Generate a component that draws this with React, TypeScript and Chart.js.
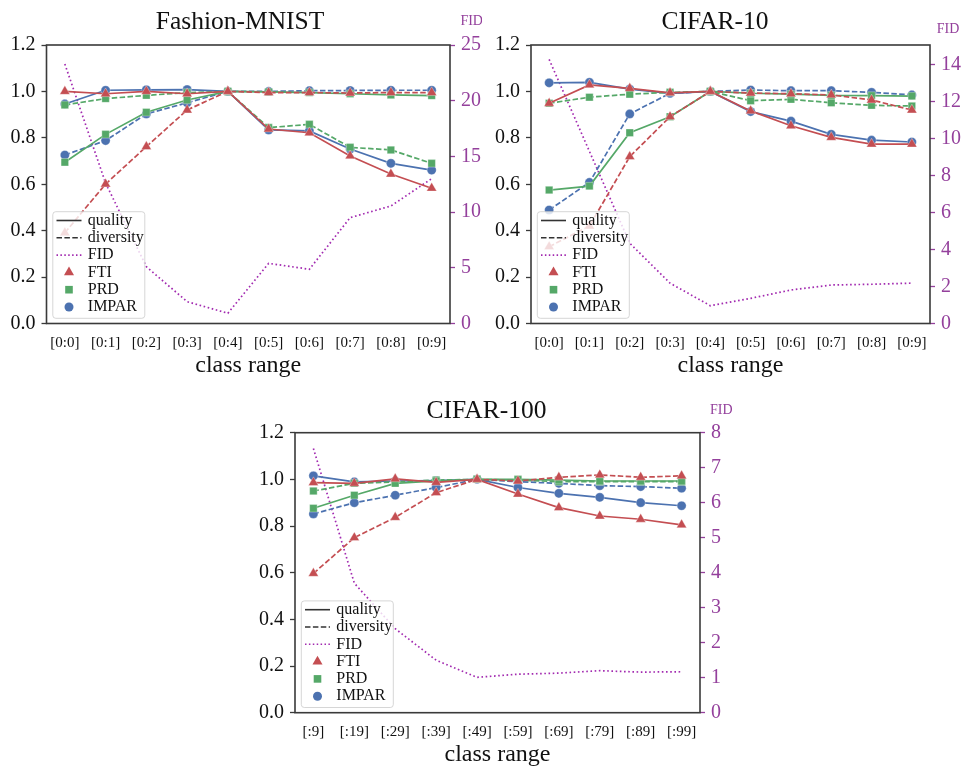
import React, { useEffect, useRef } from 'react';
import { Chart, registerables } from 'chart.js';

Chart.register(...registerables);

const FONT = '"Liberation Serif", "DejaVu Serif", serif';
const RED = '#C44E52';
const GREEN = '#55A868';
const BLUE = '#4C72B0';
const PURPLE_LINE = '#a22ab0';
const PURPLE_TEXT = '#94409c';
const SPINE = '#3a3a3a';
const TEXT = '#111111';

// ---------- data ----------
const labelsTen = ['[0:0]', '[0:1]', '[0:2]', '[0:3]', '[0:4]', '[0:5]', '[0:6]', '[0:7]', '[0:8]', '[0:9]'];
const labelsHundred = ['[:9]', '[:19]', '[:29]', '[:39]', '[:49]', '[:59]', '[:69]', '[:79]', '[:89]', '[:99]'];

// Fashion-MNIST
const fmFtiQuality = [1.0, 0.99, 1.0, 0.99, 1.0, 0.838, 0.822, 0.722, 0.644, 0.583];
const fmFtiDiversity = [0.391, 0.601, 0.762, 0.92, 1.0, 0.995, 0.995, 0.993, 0.995, 0.995];
const fmPrdQuality = [0.695, 0.815, 0.91, 0.963, 1.0, 0.998, 0.995, 0.99, 0.985, 0.982];
const fmPrdDiversity = [0.942, 0.969, 0.983, 0.995, 1.0, 0.844, 0.858, 0.759, 0.748, 0.69];
const fmImparQuality = [0.946, 1.005, 1.007, 1.008, 1.0, 0.834, 0.83, 0.752, 0.69, 0.661];
const fmImparDiversity = [0.726, 0.788, 0.903, 0.951, 1.0, 1.0, 1.003, 1.004, 1.005, 1.005];
const fmFid = [23.3, 12.6, 5.1, 1.96, 0.92, 5.4, 4.87, 9.5, 10.55, 13.0];

// CIFAR-10
const c10FtiQuality = [0.949, 1.028, 1.013, 0.994, 1.0, 0.916, 0.852, 0.802, 0.773, 0.773];
const c10FtiDiversity = [0.331, 0.42, 0.719, 0.891, 1.0, 0.993, 0.99, 0.985, 0.963, 0.92];
const c10PrdQuality = [0.575, 0.592, 0.822, 0.891, 1.0, 0.992, 0.988, 0.983, 0.982, 0.98];
const c10PrdDiversity = [0.949, 0.975, 0.988, 0.996, 1.0, 0.96, 0.966, 0.951, 0.94, 0.937];
const c10ImparQuality = [1.037, 1.039, 1.01, 0.992, 1.0, 0.913, 0.872, 0.815, 0.79, 0.782];
const c10ImparDiversity = [0.489, 0.608, 0.903, 0.992, 1.0, 1.006, 1.003, 1.003, 0.996, 0.985];
const c10Fid = [14.27, 9.3, 4.34, 2.18, 0.96, 1.36, 1.81, 2.08, 2.12, 2.18];

// CIFAR-100
const c100FtiQuality = [0.986, 0.983, 1.002, 0.987, 1.0, 0.937, 0.879, 0.843, 0.829, 0.805];
const c100FtiDiversity = [0.597, 0.75, 0.837, 0.943, 1.0, 0.993, 1.009, 1.019, 1.009, 1.015];
const c100PrdQuality = [0.876, 0.932, 0.983, 0.993, 1.0, 1.0, 0.997, 0.993, 0.993, 0.993];
const c100PrdDiversity = [0.95, 0.983, 0.989, 0.997, 1.0, 0.997, 0.99, 0.99, 0.99, 0.99];
const c100ImparQuality = [1.015, 0.989, 0.993, 0.995, 1.0, 0.965, 0.94, 0.923, 0.9, 0.887];
const c100ImparDiversity = [0.852, 0.9, 0.932, 0.965, 1.0, 0.99, 0.983, 0.973, 0.969, 0.962];
const c100Fid = [7.55, 3.7, 2.4, 1.5, 1.01, 1.1, 1.13, 1.2, 1.16, 1.17];

const legendLabels = ['quality', 'diversity', 'FID', 'FTI', 'PRD', 'IMPAR'];

// ---------- helpers ----------
function roundRectPath(ctx: CanvasRenderingContext2D, x: number, y: number, w: number, h: number, r: number) {
  ctx.beginPath();
  ctx.moveTo(x + r, y);
  ctx.arcTo(x + w, y, x + w, y + h, r);
  ctx.arcTo(x + w, y + h, x, y + h, r);
  ctx.arcTo(x, y + h, x, y, r);
  ctx.arcTo(x, y, x + w, y, r);
  ctx.closePath();
}

const decorPlugin = {
  id: 'decor',
  afterDatasetsDraw(chart: any) {
    const { ctx, chartArea: a } = chart;
    ctx.save();
    ctx.strokeStyle = SPINE;
    ctx.lineWidth = 1.6;
    ctx.setLineDash([]);
    ctx.strokeRect(a.left, a.top, a.right - a.left, a.bottom - a.top);
    ctx.restore();
  },
  afterDraw(chart: any, _args: any, opts: any) {
    const { ctx, chartArea: a } = chart;
    ctx.save();
    // title
    ctx.fillStyle = TEXT;
    ctx.font = `25.5px ${FONT}`;
    ctx.textAlign = 'center';
    ctx.textBaseline = 'middle';
    ctx.fillText(opts.title, opts.titleX, opts.titleY);
    // FID axis label
    ctx.fillStyle = PURPLE_TEXT;
    ctx.font = `14px ${FONT}`;
    ctx.fillText('FID', opts.fidX, opts.fidY);

    // legend
    const lx = a.left + 6.3;
    const ly = a.bottom - 111.8;
    const lw = 92;
    const lh = 106.6;
    roundRectPath(ctx, lx, ly, lw, lh, 3);
    ctx.fillStyle = 'rgba(255,255,255,0.8)';
    ctx.fill();
    ctx.strokeStyle = 'rgba(204,204,204,0.8)';
    ctx.lineWidth = 1;
    ctx.stroke();

    const hx0 = a.left + 10;
    const hx1 = a.left + 35;
    const hc = (hx0 + hx1) / 2;
    const tx = a.left + 41.3;
    legendLabels.forEach((text, i) => {
      const y = a.bottom - 103 + 17.3 * i;
      ctx.save();
      if (i < 3) {
        ctx.beginPath();
        ctx.strokeStyle = i === 2 ? PURPLE_LINE : '#333';
        ctx.lineWidth = 1.6;
        ctx.setLineDash(i === 0 ? [] : i === 1 ? [5.5, 2.4] : [1.5, 2.4]);
        ctx.moveTo(hx0, y);
        ctx.lineTo(hx1, y);
        ctx.stroke();
      } else if (i === 3) {
        const r = 5.8;
        ctx.beginPath();
        ctx.fillStyle = RED;
        ctx.moveTo(hc, y - r);
        ctx.lineTo(hc + r * 0.866, y + r * 0.5);
        ctx.lineTo(hc - r * 0.866, y + r * 0.5);
        ctx.closePath();
        ctx.fill();
      } else if (i === 4) {
        ctx.fillStyle = GREEN;
        ctx.fillRect(hc - 3.8, y - 3.8, 7.6, 7.6);
      } else {
        ctx.beginPath();
        ctx.fillStyle = BLUE;
        ctx.arc(hc, y, 4.5, 0, Math.PI * 2);
        ctx.fill();
      }
      ctx.restore();
      ctx.fillStyle = TEXT;
      ctx.font = `16px ${FONT}`;
      ctx.textAlign = 'left';
      ctx.textBaseline = 'middle';
      ctx.fillText(text, tx, y);
    });
    ctx.restore();
  },
};

type ChartSpec = {
  w: number;
  h: number;
  area: { left: number; top: number; right: number; bottom: number };
  labels: string[];
  ftiQ: number[];
  ftiD: number[];
  prdQ: number[];
  prdD: number[];
  impQ: number[];
  impD: number[];
  fid: number[];
  fidMax: number;
  fidStep: number;
  title: string;
  titleX: number;
  titleY: number;
  fidX: number;
  fidY: number;
  xTickPad: number;
  xTitlePad: number;
};

const DASH = [5.5, 2.4];

function series(vals: number[], color: string, dashed: boolean, style: string, radius: number) {
  return {
    data: vals.map((y, x) => ({ x, y })),
    borderColor: color,
    backgroundColor: color,
    borderWidth: 1.7,
    borderDash: dashed ? DASH : [],
    pointStyle: style,
    pointRadius: radius,
    pointBackgroundColor: color,
    pointBorderColor: 'rgba(255,255,255,0.55)',
    pointBorderWidth: 0.6,
    yAxisID: 'y',
    tension: 0,
    fill: false,
  };
}

function buildConfig(s: ChartSpec): any {
  const datasets = [
    series(s.ftiQ, RED, false, 'triangle', 5.8),
    series(s.ftiD, RED, true, 'triangle', 5.8),
    series(s.prdQ, GREEN, false, 'rect', 5.3),
    series(s.prdD, GREEN, true, 'rect', 5.3),
    series(s.impQ, BLUE, false, 'circle', 4.6),
    series(s.impD, BLUE, true, 'circle', 4.6),
    {
      data: s.fid.map((y, x) => ({ x, y })),
      borderColor: PURPLE_LINE,
      backgroundColor: PURPLE_LINE,
      borderWidth: 1.7,
      borderDash: [1.6, 2.6],
      pointRadius: 0,
      yAxisID: 'y2',
      tension: 0,
      fill: false,
    },
  ];
  return {
    type: 'line',
    data: { datasets },
    options: {
      animation: false,
      responsive: false,
      events: [],
      layout: { padding: { left: 0, right: 0, top: s.area.top, bottom: 0 } },
      plugins: {
        legend: { display: false },
        tooltip: { enabled: false },
        title: { display: false },
        decor: {
          title: s.title,
          titleX: s.titleX,
          titleY: s.titleY,
          fidX: s.fidX,
          fidY: s.fidY,
        },
      },
      scales: {
        x: {
          type: 'linear',
          position: 'bottom',
          min: -0.45,
          max: 9.45,
          afterFit: (sc: any) => {
            sc.height = s.h - s.area.bottom;
          },
          grid: { display: false, drawTicks: false },
          border: { display: false },
          ticks: {
            stepSize: 1,
            includeBounds: false,
            autoSkip: false,
            maxRotation: 0,
            minRotation: 0,
            padding: s.xTickPad,
            font: { family: FONT, size: 15 },
            color: TEXT,
            callback: (v: any) => (s.labels[v] !== undefined ? s.labels[v] : ''),
          },
          title: {
            display: true,
            text: 'class range',
            color: TEXT,
            font: { family: FONT, size: 24, lineHeight: 1 },
            padding: { top: 0, bottom: s.xTitlePad },
          },
        },
        y: {
          position: 'left',
          min: 0,
          max: 1.2,
          afterFit: (sc: any) => {
            sc.width = s.area.left;
          },
          border: { display: false },
          grid: {
            drawOnChartArea: false,
            drawTicks: true,
            tickLength: 5,
            tickColor: SPINE,
            tickWidth: 1.3,
          },
          ticks: {
            stepSize: 0.2,
            includeBounds: false,
            padding: 6,
            color: TEXT,
            font: { family: FONT, size: 20 },
            callback: (v: any) => Number(v).toFixed(1),
          },
        },
        y2: {
          position: 'right',
          min: 0,
          max: s.fidMax,
          afterFit: (sc: any) => {
            sc.width = s.w - s.area.right;
          },
          border: { display: false },
          grid: {
            drawOnChartArea: false,
            drawTicks: true,
            tickLength: 5,
            tickColor: PURPLE_TEXT,
            tickWidth: 1.3,
          },
          ticks: {
            stepSize: s.fidStep,
            includeBounds: false,
            padding: 6,
            color: PURPLE_TEXT,
            font: { family: FONT, size: 20 },
            callback: (v: any) => String(Math.round(Number(v))),
          },
        },
      },
    },
    plugins: [decorPlugin],
  };
}

const specFM: ChartSpec = {
  w: 482,
  h: 385,
  area: { left: 46.5, top: 45, right: 450, bottom: 323.5 },
  labels: labelsTen,
  ftiQ: fmFtiQuality,
  ftiD: fmFtiDiversity,
  prdQ: fmPrdQuality,
  prdD: fmPrdDiversity,
  impQ: fmImparQuality,
  impD: fmImparDiversity,
  fid: fmFid,
  fidMax: 25,
  fidStep: 5,
  title: 'Fashion-MNIST',
  titleX: 240,
  titleY: 22,
  fidX: 471.7,
  fidY: 21.7,
  xTickPad: 10.3,
  xTitlePad: 7.5,
};

const specC10: ChartSpec = {
  w: 483,
  h: 385,
  area: { left: 49, top: 45, right: 448, bottom: 323.5 },
  labels: labelsTen,
  ftiQ: c10FtiQuality,
  ftiD: c10FtiDiversity,
  prdQ: c10PrdQuality,
  prdD: c10PrdDiversity,
  impQ: c10ImparQuality,
  impD: c10ImparDiversity,
  fid: c10Fid,
  fidMax: 15.05,
  fidStep: 2,
  title: 'CIFAR-10',
  titleX: 233,
  titleY: 22,
  fidX: 466,
  fidY: 29,
  xTickPad: 10.3,
  xTitlePad: 7.5,
};

const specC100: ChartSpec = {
  w: 500,
  h: 377,
  area: { left: 55, top: 42.7, right: 460, bottom: 322.7 },
  labels: labelsHundred,
  ftiQ: c100FtiQuality,
  ftiD: c100FtiDiversity,
  prdQ: c100PrdQuality,
  prdD: c100PrdDiversity,
  impQ: c100ImparQuality,
  impD: c100ImparDiversity,
  fid: c100Fid,
  fidMax: 8,
  fidStep: 1,
  title: 'CIFAR-100',
  titleX: 246.5,
  titleY: 21,
  fidX: 481.3,
  fidY: 20,
  xTickPad: 10.3,
  xTitlePad: 0.3,
};

export default function App() {
  const r1 = useRef<HTMLCanvasElement>(null);
  const r2 = useRef<HTMLCanvasElement>(null);
  const r3 = useRef<HTMLCanvasElement>(null);

  useEffect(() => {
    const charts: Chart[] = [];
    const pairs: [HTMLCanvasElement | null, ChartSpec][] = [
      [r1.current, specFM],
      [r2.current, specC10],
      [r3.current, specC100],
    ];
    pairs.forEach(([cv, spec]) => {
      if (cv) charts.push(new Chart(cv, buildConfig(spec)));
    });
    return () => {
      charts.forEach((c) => c.destroy());
    };
  }, []);

  return (
    <div
      style={{
        position: 'fixed',
        left: 0,
        top: 0,
        width: 965,
        height: 767,
        background: '#ffffff',
        overflow: 'hidden',
      }}
    >
      <canvas ref={r1} width={specFM.w} height={specFM.h} style={{ position: 'absolute', left: 0, top: 0 }} />
      <canvas ref={r2} width={specC10.w} height={specC10.h} style={{ position: 'absolute', left: 482, top: 0 }} />
      <canvas ref={r3} width={specC100.w} height={specC100.h} style={{ position: 'absolute', left: 240, top: 390 }} />
    </div>
  );
}
